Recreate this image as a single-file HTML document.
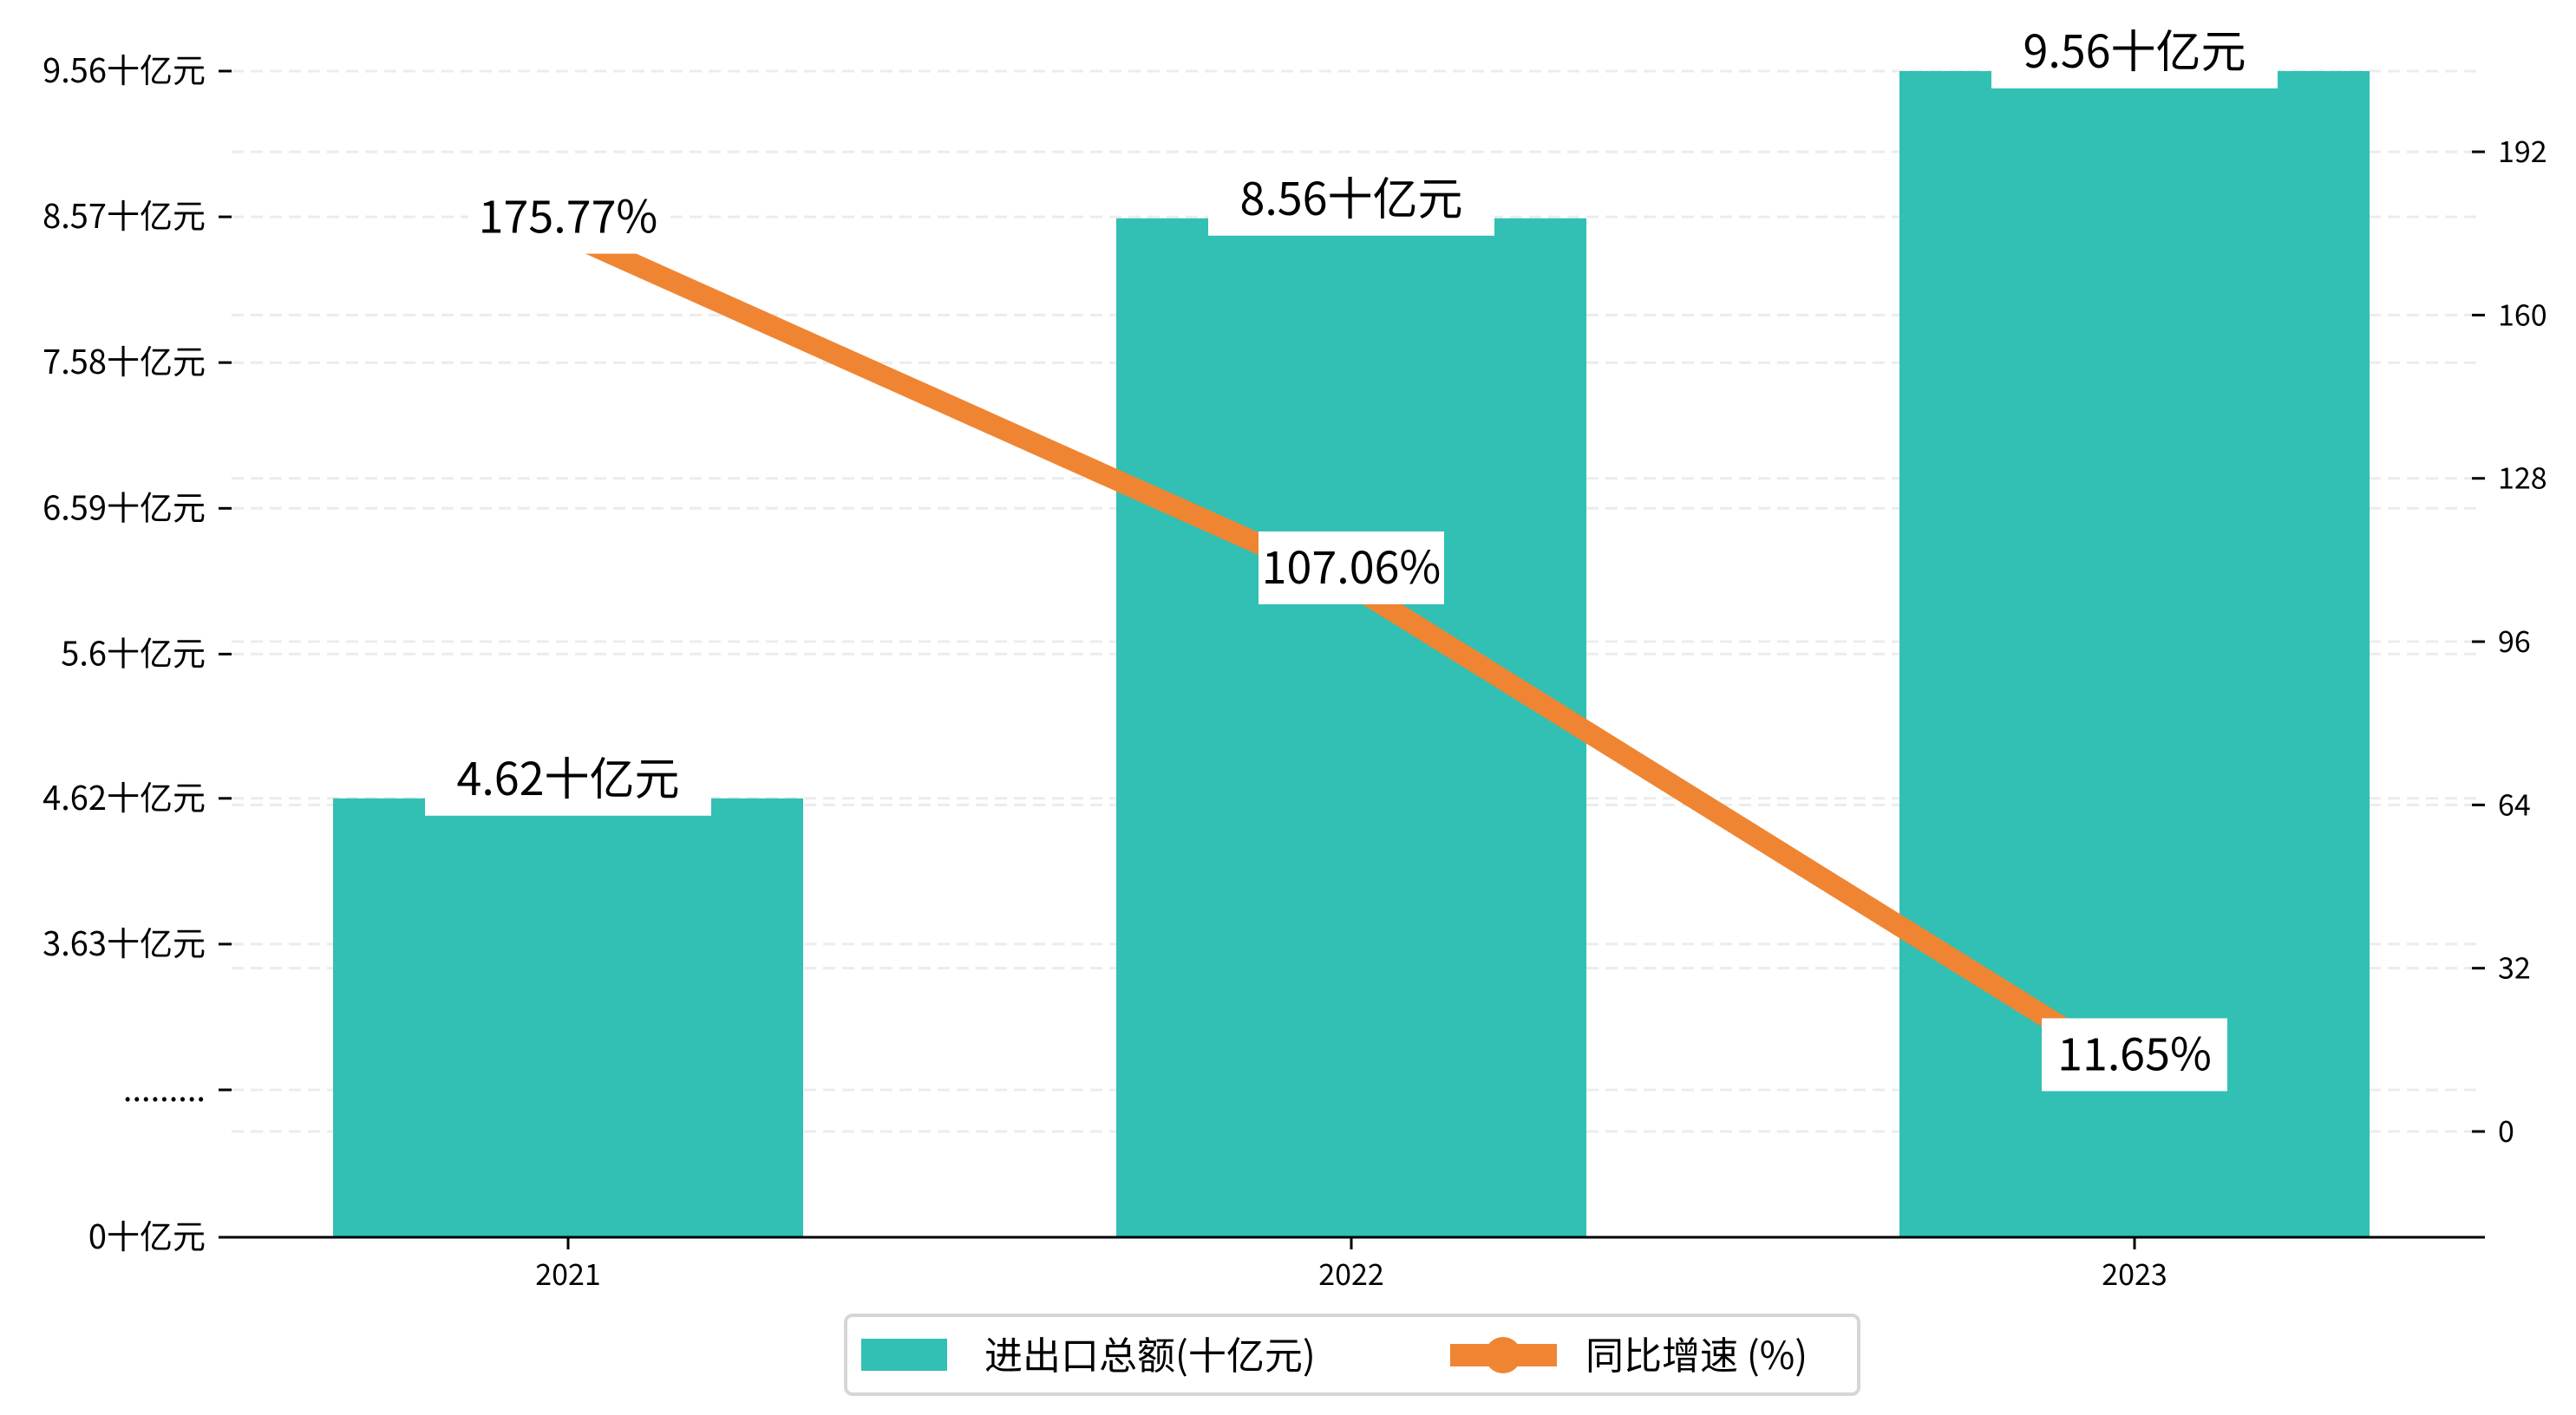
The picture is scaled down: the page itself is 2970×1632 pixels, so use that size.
<!DOCTYPE html>
<html><head><meta charset="utf-8"><style>
html,body{margin:0;padding:0;background:#fff;}
svg{display:block;}
text{font-family:"WenQuanYi Zen Hei","Noto Sans CJK SC",sans-serif;}
</style></head><body>
<svg id="chart" width="2970" height="1632" xmlns="http://www.w3.org/2000/svg">
<g id="grid"></g>
<g id="bars"></g>
<g id="line"></g>
<g id="axes"></g>
<g id="labels"></g>
<g id="legend">
  <rect x="975" y="1517" width="1168" height="91" rx="8" fill="#fff" stroke="#d6d6d6" stroke-width="4"/>
  <rect x="993" y="1544" width="99" height="37" fill="#31c0b3"/>
  <text x="1135" y="1579" font-size="44" fill="#000">进出口总额(十亿元)</text>
  <line x1="1672" y1="1563" x2="1795" y2="1563" stroke="#ef8532" stroke-width="26"/>
  <circle cx="1733" cy="1563" r="21" fill="#ef8532"/>
  <text x="1828" y="1579" font-size="44" fill="#000">同比增速 (%)</text>
</g>
</svg>
<script>
const categories = ["2021","2022","2023"];
const amounts = [4.62, 8.56, 9.56];
const growth = [175.77, 107.06, 11.65];
const leftTickValues = [0, 2.64, 3.63, 4.62, 5.6, 6.59, 7.58, 8.57, 9.56];
const leftTickLabels = ["0十亿元",".........","3.63十亿元","4.62十亿元","5.6十亿元","6.59十亿元","7.58十亿元","8.57十亿元","9.56十亿元"];
const rightTickValues = [0, 32, 64, 96, 128, 160, 192];

const NS = "http://www.w3.org/2000/svg";
const X0 = 257, X1 = 2865, BASE = 1427;
function xPos(i){ return 655 + i * 903; }
function yLeft(v){ // broken axis: 0..2.64 compressed
  if (v <= 2.64) return BASE - v / 2.64 * 170;
  return 1257 - (v - 2.64) * 169.8;
}
function yRight(v){ return 1305 - v * 5.885; }
function mk(tag, attrs, parent){
  const e = document.createElementNS(NS, tag);
  for (const k in attrs) e.setAttribute(k, attrs[k]);
  parent.appendChild(e); return e;
}
const grid = document.getElementById('grid');
const bars = document.getElementById('bars');
const lineG = document.getElementById('line');
const axes = document.getElementById('axes');
const labels = document.getElementById('labels');

leftTickValues.forEach((v,i)=>{
  const y = yLeft(v);
  if (i>0){
    const g = mk('line',{x1:267,x2:2862,y1:y,y2:y,stroke:'#ececec','stroke-width':3,'stroke-dasharray':'14 8'},grid);
    
    
  }
  const t = mk('line',{x1:252,x2:267,y1:y,y2:y,stroke:'#000','stroke-width':3},axes);
  
  
  const tx = mk('text',{x:237,y:y+13,'font-size':38,'text-anchor':'end',fill:'#000'},axes);
  tx.textContent = leftTickLabels[i];
  
  
});
rightTickValues.forEach(v=>{
  const y = yRight(v);
  const g = mk('line',{x1:267,x2:2862,y1:y,y2:y,stroke:'#ececec','stroke-width':3,'stroke-dasharray':'14 8'},grid);
  
  
  const t = mk('line',{x1:2850,x2:2865,y1:y,y2:y,stroke:'#000','stroke-width':3},axes);
  
  
  const tx = mk('text',{x:2880,y:y+12,'font-size':34,fill:'#000'},axes);
  tx.textContent = String(v);
  
  
});

categories.forEach((c,i)=>{
  const cx = xPos(i), top = yLeft(amounts[i]);
  const r = mk('rect',{x:cx-271,y:top,width:542,height:BASE-top,fill:'#31c0b3'},bars);
  
  
  const t = mk('line',{x1:cx,x2:cx,y1:BASE,y2:BASE+14,stroke:'#000','stroke-width':3},axes);
  
  
  const tx = mk('text',{x:cx,y:BASE+55,'font-size':34,'text-anchor':'middle',fill:'#000'},axes);
  tx.textContent = c;
  
  
});
const spine = mk('line',{x1:X0,x2:X1,y1:BASE,y2:BASE,stroke:'#000','stroke-width':3},axes);



const pts = growth.map((v,i)=>xPos(i)+','+yRight(v)).join(' ');
const pl = mk('polyline',{points:pts,fill:'none',stroke:'#ef8532','stroke-width':24,'stroke-linejoin':'round'},lineG);



function label(x,y,text,w,name){
  const g = mk('g',{},labels);
  
  
  mk('rect',{x:x-w/2,y:y-42,width:w,height:84,fill:'#fff'},g);
  const t = mk('text',{x:x,y:y+18,'font-size':52,'text-anchor':'middle',fill:'#000'},g);
  t.textContent = text;
}
categories.forEach((c,i)=>{
  label(xPos(i), yLeft(amounts[i])-22, amounts[i].toFixed(2)+'十亿元', 330, 'bar-value-label');
});
categories.forEach((c,i)=>{
  label(xPos(i), yRight(growth[i])-20, growth[i].toFixed(2)+'%', i==0?230:214, 'growth-value-label');
});
</script>
</body></html>
